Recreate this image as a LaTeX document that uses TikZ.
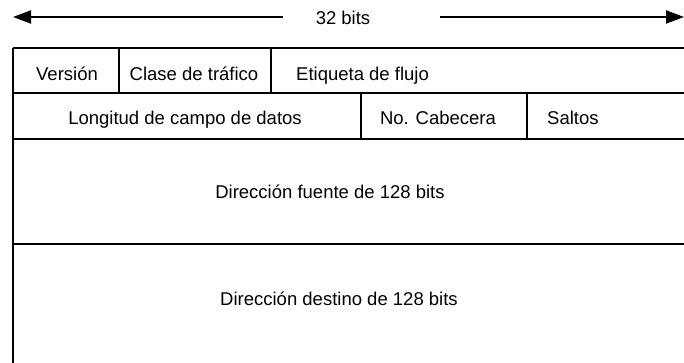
\documentclass[tikz,border=0pt]{standalone}
\usepackage{fontspec}
\setmainfont{Liberation Sans}
\usetikzlibrary{arrows.meta}
\begin{document}
\begin{tikzpicture}[x=1pt,y=-1pt,
  rule/.style={line width=2.4pt},
  divider/.style={line width=1.8pt},
  dimline/.style={line width=2pt,-{Triangle[length=18pt,width=13pt]}},
  lbl/.style={inner sep=0pt,anchor=base,font=\fontsize{18.5}{22}\selectfont}]
\useasboundingbox (0,0) rectangle (684,363);
% width marker
\node[lbl] (bits) at (343,25) {32 bits};
\coordinate (la) at (283,17);
\coordinate (lt) at (13,17);
\coordinate (ra) at (440,17);
\coordinate (rt) at (684,17);
\draw[dimline] (la) -- (lt);
\draw[dimline] (ra) -- (rt);
% table frame
\coordinate (tl) at (13,48);
\coordinate (bl) at (13,363);
\draw[rule] (tl) -- (bl);
\draw[rule] (13,48) -- (684,48);
\draw[rule] (13,93) -- (684,93);
\draw[rule] (13,139) -- (684,139);
\draw[rule] (13,244) -- (684,244);
\draw[divider] (119,48) -- (119,93);
\draw[divider] (271,48) -- (271,93);
\draw[divider] (361,93) -- (361,139);
\draw[divider] (527,93) -- (527,139);
% labels
\node[lbl] (ver) at (67,81) {Versión};
\node[lbl] (cla) at (194,81) {Clase de tráfico};
\node[lbl,anchor=base west] (eti) at (296,81) {Etiqueta de flujo};
\node[lbl] (lon) at (185,125) {Longitud de campo de datos};
\node[lbl] (cab) at (438,125) {No. Cabecera};
\node[lbl,anchor=base west] (sal) at (547,125) {Saltos};
\node[lbl] (src) at (330,199) {Dirección fuente de 128 bits};
\node[lbl] (dst) at (339,305) {Dirección destino de 128 bits};
\end{tikzpicture}
\end{document}
